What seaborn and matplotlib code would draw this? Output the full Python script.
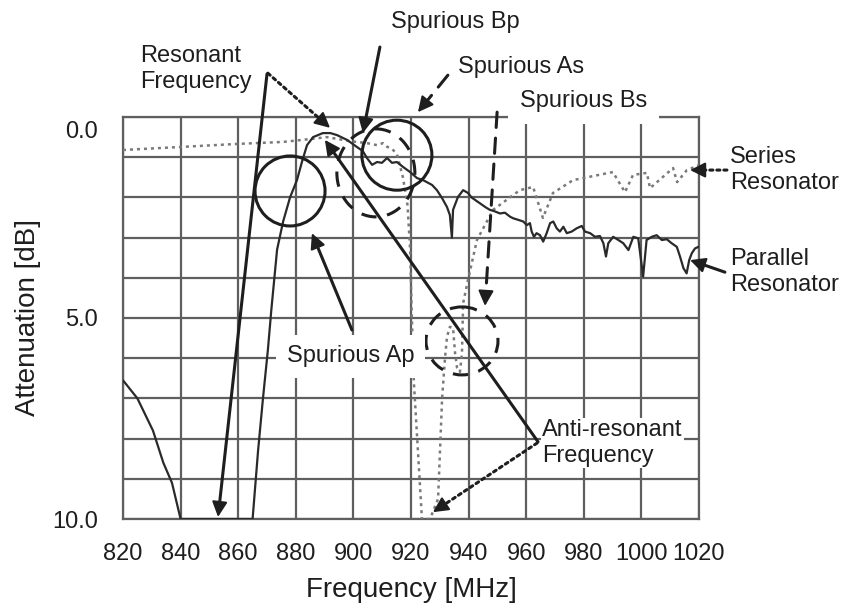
import matplotlib
matplotlib.use("Agg")
import matplotlib.pyplot as plt
from matplotlib.patches import Ellipse
from matplotlib.transforms import ScaledTranslation
import numpy as np
import pandas as pd
import seaborn as sns

# Parallel resonator response (frequency in MHz, attenuation in dB)
par_freq = [820.0, 825.0, 830.4, 834.0, 837.0, 839.0, 840.0, 865.0, 866.9, 868.6,
            870.3, 871.5, 873.5, 875.6, 878.0, 880.4, 882.2, 883.9, 886.0, 889.4,
            892.0, 894.3, 897.8, 901.3, 903.3, 904.7, 906.5, 908.2, 909.9, 911.7,
            913.4, 915.1, 917.2, 919.7, 922.1, 924.2, 927.3, 929.0, 930.8, 932.5,
            933.5, 934.2, 934.6, 936.3, 938.1, 939.8, 941.0, 944.0, 946.0, 947.4,
            949.2, 950.9, 952.6, 954.4, 955.5, 957.3, 959.0, 960.2, 961.3, 961.9,
            962.7, 963.6, 964.8, 965.9, 967.1, 968.3, 969.4, 970.6, 971.7, 972.9,
            974.1, 975.8, 977.5, 979.3, 980.4, 982.2, 983.9, 985.6, 986.8, 987.7,
            988.5, 990.2, 992.0, 993.7, 995.5, 997.2, 998.9, 1000.6, 1001.8, 1003.6,
            1005.3, 1007.1, 1008.8, 1010.5, 1012.3, 1013.4, 1014.6, 1015.7, 1016.6, 1017.5,
            1018.6, 1019.8]
par_atten = [6.55, 7.00, 7.80, 8.60, 9.10, 9.70, 10.00, 10.00, 8.30, 7.00,
             5.80, 4.80, 3.30, 2.60, 2.00, 1.57, 1.10, 0.70, 0.50, 0.40,
             0.40, 0.45, 0.57, 0.75, 0.85, 1.02, 1.19, 1.12, 1.14, 1.02,
             1.14, 1.12, 1.24, 1.37, 1.52, 1.57, 1.69, 1.82, 2.02, 2.24,
             2.44, 3.00, 2.31, 1.99, 1.82, 1.89, 2.00, 2.15, 2.25, 2.31,
             2.35, 2.40, 2.38, 2.48, 2.52, 2.56, 2.60, 2.69, 2.64, 2.85,
             2.98, 2.89, 2.94, 3.10, 2.89, 2.64, 2.60, 2.77, 2.85, 2.73,
             2.89, 2.85, 2.77, 2.71, 2.85, 2.89, 2.98, 2.96, 3.14, 3.47,
             3.14, 2.98, 3.06, 3.14, 3.31, 2.98, 3.02, 3.97, 3.06, 2.98,
             2.94, 3.06, 3.04, 3.14, 3.23, 3.47, 3.76, 3.89, 3.56, 3.39,
             3.27, 3.23]

# Series resonator response
ser_freq = [820.0, 838.8, 859.6, 875.6, 887.4, 890.8, 898.8, 904.7, 908.2, 910.3,
            911.7, 913.5, 915.1, 917.2, 918.8, 919.7, 920.3, 921.0, 922.4, 923.8,
            926.6, 929.4, 930.8, 931.8, 932.5, 933.5, 934.6, 935.3, 936.0, 937.0,
            937.7, 938.1, 939.8, 942.9, 948.5, 957.8, 962.4, 965.8, 969.3, 976.3,
            990.1, 994.3, 997.1, 1001.9, 1003.0, 1011.0, 1012.4, 1015.8, 1020.0]
ser_atten = [0.82, 0.75, 0.67, 0.62, 0.53, 0.50, 0.60, 0.65, 0.70, 0.65,
             0.74, 0.80, 0.92, 1.50, 2.20, 3.30, 5.00, 6.60, 8.30, 10.00,
             10.00, 9.50, 7.00, 6.00, 5.47, 5.22, 5.25, 5.87, 6.24, 6.34,
             5.87, 4.63, 4.05, 3.06, 2.31, 1.82, 1.74, 2.51, 1.89, 1.57,
             1.37, 1.87, 1.44, 1.39, 1.77, 1.27, 1.62, 1.32, 1.20]

x_ticks = [820, 840, 860, 880, 900, 920, 940, 960, 980, 1000, 1020]
y_major = [0.0, 5.0, 10.0]
y_labels = ["0.0", "5.0", "10.0"]

INK = "#1e1e1e"
GRID = "#5f5f5f"

sns.set_style("white")
plt.rcParams["font.family"] = ["Liberation Sans", "DejaVu Sans"]

fig = plt.figure(figsize=(8.45, 6.08), dpi=100)
ax = fig.add_axes([123 / 845, 1 - 519 / 608, 576 / 845, 402 / 608])

par_df = pd.DataFrame({"freq": par_freq, "atten": par_atten})
ser_df = pd.DataFrame({"freq": ser_freq, "atten": ser_atten})

sns.lineplot(data=ser_df, x="freq", y="atten", ax=ax, sort=False, estimator=None,
             color="#7a7a7a", lw=1.8, linestyle=(0, (1.2, 1.6)), zorder=3)
sns.lineplot(data=par_df, x="freq", y="atten", ax=ax, sort=False, estimator=None,
             color="#2a2a2a", lw=1.6, zorder=4)

ax.set_xlim(820, 1020)
ax.set_ylim(10, 0)
ax.set_xticks(x_ticks)
ax.set_xticklabels([str(t) for t in x_ticks])
ax.set_yticks(y_major)
ax.set_yticklabels(y_labels)
ax.set_yticks(np.arange(0, 11, 1), minor=True)
ax.grid(True, which="both", color=GRID, lw=1.6)
ax.set_axisbelow(True)
for s in ax.spines.values():
    s.set_color(GRID)
    s.set_linewidth(1.6)
ax.tick_params(axis="both", which="both", length=0, labelsize=17, colors=INK)
ax.tick_params(axis="x", pad=17)
ax.tick_params(axis="y", pad=18)

# nudge the top y label down a little
lbl0 = ax.get_yticklabels()[0]
lbl0.set_transform(lbl0.get_transform() + ScaledTranslation(0, -12 / 100, fig.dpi_scale_trans))

ax.set_xlabel("Frequency [MHz]", fontsize=20, color=INK)
ax.set_ylabel("Attenuation [dB]", fontsize=20, color=INK)
ax.xaxis.set_label_coords(0.5, -0.145)
ax.yaxis.set_label_coords(-0.143, 0.5)

# --- annotations --------------------------------------------------------
FS = 17
px_f = 200 / 576   # MHz per pixel
px_a = 10 / 402    # dB per pixel
HEAD = dict(arrowstyle="-|>", mutation_scale=23, lw=1.5, color=INK,
            shrinkA=0, shrinkB=0)
STYLES = {"solid": "-", "dashed": (0, (5, 3.5)), "dotted": (0, (1, 1.3))}


def note(xy, xytext, style="solid"):
    """Arrow from xytext to xy: styled shaft plus a solid filled head."""
    ax.annotate("", xy=xy, xytext=xytext, annotation_clip=False, zorder=8,
                arrowprops=dict(arrowstyle="-", lw=2.2, color=INK,
                                linestyle=STYLES[style], shrinkA=0, shrinkB=10))
    dx = (xytext[0] - xy[0]) / px_f
    dy = (xytext[1] - xy[1]) / px_a
    t = 14 / np.hypot(dx, dy)
    start = (xy[0] + (xytext[0] - xy[0]) * t, xy[1] + (xytext[1] - xy[1]) * t)
    ax.annotate("", xy=xy, xytext=start, annotation_clip=False, zorder=8,
                arrowprops=HEAD)


def label(x, y, text, ha="left", box=None):
    return ax.text(x, y, text, fontsize=FS, color=INK, ha=ha, va="center",
                   clip_on=False, zorder=9, bbox=box)


def white(pad):
    return dict(boxstyle=f"square,pad={pad}", fc="white", ec="none")


# Resonant frequency
label(825.9, -1.19, "Resonant\nFrequency")
note((853.0, 9.95), (870.0, -1.07))
note((891.9, 0.27), (870.3, -1.09), "dotted")

# Spurious Bp
label(935.3, -2.36, "Spurious Bp", ha="center")
note((903.3, 0.40), (909.2, -1.74))

# Spurious As
label(958.2, -1.24, "Spurious As", ha="center")
note((922.4, -0.12), (932.8, -1.04), "dashed")

# Spurious Bs
label(980.0, -0.40, "Spurious Bs", ha="center", box=white(0.5))
note((945.7, 4.70), (949.9, -0.12), "dashed")

# Spurious Ap
label(899.0, 5.95, "Spurious Ap", ha="center", box=white(0.45))
note((885.6, 2.89), (899.5, 5.30))

# Anti-resonant frequency
label(965.5, 8.11, "Anti-resonant\nFrequency", box=white(0.05))
note((890.1, 0.57), (964.1, 8.08))
note((927.6, 9.83), (963.8, 8.11), "dotted")

# Series / parallel resonator labels
label(1030.8, 1.32, "Series\nResonator")
note((1016.9, 1.32), (1029.7, 1.32), "dotted")
label(1030.8, 3.86, "Parallel\nResonator")
note((1016.9, 3.56), (1029.0, 3.86))

# circles marking the spurious responses
circles = [
    ((878.0, 1.84), 70, 70, "solid"),
    ((915.1, 0.95), 70, 70, "solid"),
    ((907.8, 1.39), 78, 88, "dashed"),
    ((937.7, 5.57), 72, 68, "dashed"),
]
for (cx, cy), w, h, ls in circles:
    ax.add_patch(Ellipse((cx, cy), w * px_f, h * px_a, fill=False, ec=INK,
                         lw=2.2, linestyle=STYLES[ls], zorder=7, clip_on=False))

fig.savefig("out.png", dpi=100, facecolor="white")
